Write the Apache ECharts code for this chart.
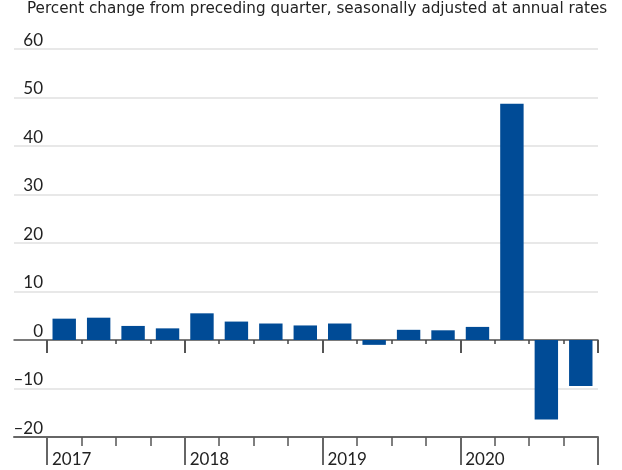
<!DOCTYPE html>
<html>
<head>
<meta charset="utf-8">
<script src="https://cdn.jsdelivr.net/npm/echarts@6/dist/echarts.min.js"></script>
<style>
  html, body { margin: 0; padding: 0; background: #fff; }
  #chart { width: 622px; height: 470px; }
</style>
</head>
<body>
<div id="chart"></div>
<script>
// Quarterly percent change, seasonally adjusted at annual rates
const quarters = [
  '2017 Q1', '2017 Q2', '2017 Q3', '2017 Q4',
  '2018 Q1', '2018 Q2', '2018 Q3', '2018 Q4',
  '2019 Q1', '2019 Q2', '2019 Q3', '2019 Q4',
  '2020 Q1', '2020 Q2', '2020 Q3', '2020 Q4'
];
const changes = [
  4.4, 4.6, 2.9, 2.4,
  5.5, 3.8, 3.4, 3.0,
  3.4, -1.0, 2.1, 2.0,
  2.7, 48.7, -16.4, -9.5
];
const years = ['2017', '2018', '2019', '2020'];
const quartersPerYear = 4;
const yMin = -20;
const yMax = 60;
const yStep = 10;
const subtitle = 'Percent change from preceding quarter, seasonally adjusted at annual rates';

const FONT = 'Lato';
const TITLE_FONT = 'DejaVu Sans';
const TEXT = '#222';
const BAR = '#004B96';

// Shared plot box; the wide box carries the gridlines and axis lines,
// the narrow box carries the quarters.
const plotTop = 49;
const plotBottom = 33;
const plotRight = 24;
const wideLeft = 14;
const narrowLeft = 47;

function box(left) {
  return { left: left, right: plotRight, top: plotTop, bottom: plotBottom, containLabel: false, outerBoundsMode: 'none' };
}
function hiddenY(gridIndex) {
  return { gridIndex: gridIndex, type: 'value', min: yMin, max: yMax, interval: yStep, show: false };
}
const off = { show: false };

const chart = echarts.init(document.getElementById('chart'), null, { renderer: 'canvas' });

chart.setOption({
  animation: false,
  backgroundColor: '#fff',
  title: {
    text: subtitle,
    left: 27,
    top: 2,
    padding: 0,
    textStyle: { fontFamily: TITLE_FONT, fontSize: 15.2, fontWeight: 'normal', color: TEXT }
  },
  grid: [box(wideLeft), box(wideLeft), box(narrowLeft), box(narrowLeft), box(narrowLeft), box(narrowLeft)],
  yAxis: [
    {
      gridIndex: 0, type: 'value', min: yMin, max: yMax, interval: yStep,
      axisLine: off, axisTick: off,
      splitLine: { show: true, lineStyle: { color: '#e0e0e0', width: 1.5 } },
      axisLabel: {
        inside: true, align: 'right', margin: 29, verticalAlign: 'bottom',
        fontFamily: FONT, fontSize: 17, color: TEXT, lineHeight: 17,
        formatter: function (v) { return v < 0 ? '\u2013' + Math.abs(v) : String(v); }
      }
    },
    hiddenY(1), hiddenY(2), hiddenY(3), hiddenY(4), hiddenY(5)
  ],
  xAxis: [
    // zero line
    {
      gridIndex: 0, type: 'value', min: 0, max: 1,
      axisLine: { show: true, onZero: true, lineStyle: { color: '#555', width: 1.5 } },
      axisTick: off, axisLabel: off, splitLine: off
    },
    // bottom baseline
    {
      gridIndex: 1, type: 'value', min: 0, max: 1,
      axisLine: { show: true, onZero: false, lineStyle: { color: '#666', width: 2 } },
      axisTick: off, axisLabel: off, splitLine: off
    },
    // quarter ticks on the zero line (bars use this axis)
    {
      gridIndex: 2, type: 'category', data: quarters,
      axisLine: { show: false, onZero: true },
      axisTick: { show: true, interval: 0, length: 4, lineStyle: { color: '#444', width: 1.5 } },
      axisLabel: off, splitLine: off
    },
    // year ticks on the zero line
    {
      gridIndex: 3, type: 'category', data: quarters,
      axisLine: { show: false, onZero: true },
      axisTick: { show: true, interval: quartersPerYear - 1, length: 13, lineStyle: { color: '#555', width: 2 } },
      axisLabel: off, splitLine: off
    },
    // quarter ticks on the bottom line
    {
      gridIndex: 4, type: 'category', data: quarters,
      axisLine: { show: false, onZero: false },
      axisTick: { show: true, interval: 0, length: 9, lineStyle: { color: '#555', width: 1.5 } },
      axisLabel: off, splitLine: off
    },
    // year ticks and labels on the bottom line
    {
      gridIndex: 5, type: 'value', min: 0, max: quarters.length, interval: quartersPerYear,
      axisLine: { show: false, onZero: false },
      axisTick: { show: true, length: 28, lineStyle: { color: '#666', width: 2 } },
      axisLabel: {
        show: true, align: 'left', margin: 14, padding: [0, 0, 0, 5],
        fontFamily: FONT, fontSize: 17, color: TEXT,
        formatter: function (v) { return years[v / quartersPerYear] || ''; }
      },
      splitLine: off
    }
  ],
  series: [
    {
      type: 'bar',
      xAxisIndex: 2,
      yAxisIndex: 2,
      data: changes,
      barWidth: '68%',
      itemStyle: { color: BAR }
    }
  ]
});
</script>
</body>
</html>
